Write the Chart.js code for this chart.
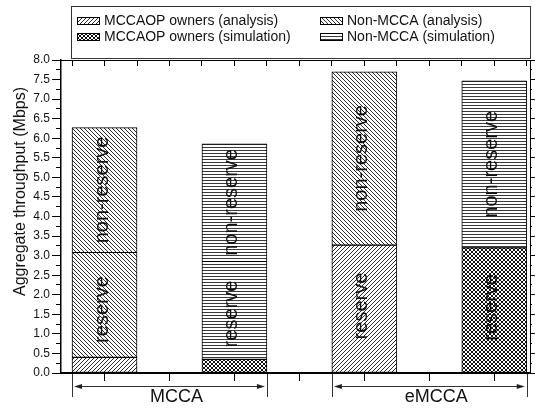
<!DOCTYPE html>
<html><head><meta charset="utf-8">
<script src="https://cdn.jsdelivr.net/npm/chart.js@4.4.0/dist/chart.umd.min.js"></script>
<style>html,body{margin:0;padding:0;background:#fff;}canvas{display:block;}</style>
</head><body>
<canvas id="c" width="535" height="412"></canvas>
<script>
// ---- data ----
const categories = ['MCCA', 'eMCCA'];
const seriesNames = ['MCCAOP owners (analysis)', 'MCCAOP owners (simulation)', 'Non-MCCA (analysis)', 'Non-MCCA (simulation)'];
const ownersAnalysis = [0.40, 3.27];
const ownersSimulation = [0.35, 3.20];
const nonMccaAnalysis = [5.87, 4.43];
const nonMccaSimulation = [5.51, 4.27];
const reserveAnalysis = [3.09, 3.27];
const reserveSimulation = [2.86, 3.20];
const segmentLabels = ['reserve', 'non-reserve'];
const yTitle = 'Aggregate throughput (Mbps)';

const FONT = "'Liberation Sans', Arial, Helvetica, sans-serif";

function makePattern(kind) {
  const s = kind === 'h' ? 3 : 4;
  const c = document.createElement('canvas');
  c.width = s; c.height = s;
  const g = c.getContext('2d');
  g.fillStyle = '#fff'; g.fillRect(0, 0, s, s);
  g.lineWidth = 1;
  if (kind === 'h') {
    g.fillStyle = '#3a3a3a'; g.fillRect(0, 0, s, 1);
  } else {
    g.strokeStyle = kind === 'x' ? '#111' : '#2a2a2a';
    g.beginPath();
    for (let k = -1; k <= 1; k++) {
      if (kind === '/' || kind === 'x') { g.moveTo(k * s, s); g.lineTo(k * s + s, 0); }
      if (kind === '\\' || kind === 'x') { g.moveTo(k * s, 0); g.lineTo(k * s + s, s); }
    }
    g.stroke();
  }
  return document.getElementById('c').getContext('2d').createPattern(c, 'repeat');
}
const patterns = [makePattern('/'), makePattern('x'), makePattern('\\'), makePattern('h')];

const posA = i => 4 * i + 1;   // analysis bar slot
const posS = i => 4 * i + 3;   // simulation bar slot
const toPts = (arr, pos) => arr.map((v, i) => ({x: pos(i), y: v}));

const seriesData = [
  toPts(ownersAnalysis, posA),
  toPts(ownersSimulation, posS),
  toPts(nonMccaAnalysis, posA),
  toPts(nonMccaSimulation, posS)
];

const datasets = seriesNames.map((name, k) => ({
  label: name,
  data: seriesData[k],
  backgroundColor: patterns[k],
  borderColor: '#000',
  borderWidth: 1,
  borderSkipped: false,
  barThickness: 65,
  stack: 's',
  xAxisID: 'x',
  yAxisID: 'y'
}));

const fixSize = (w, h) => s => { if (w !== null) s.width = w; if (h !== null) s.height = h; };

const decor = {
  id: 'decor',
  afterDatasetsDraw(chart) {
    const {ctx, scales: {x, y}} = chart;
    const half = 32.5;
    ctx.save();
    categories.forEach((cat, i) => {
      const bars = [
        {pos: posA(i), owners: ownersAnalysis[i], total: ownersAnalysis[i] + nonMccaAnalysis[i], reserve: reserveAnalysis[i]},
        {pos: posS(i), owners: ownersSimulation[i], total: ownersSimulation[i] + nonMccaSimulation[i], reserve: reserveSimulation[i]}
      ];
      bars.forEach(b => {
        const cx = x.getPixelForValue(b.pos);
        const yR = y.getPixelForValue(b.reserve);
        if (Math.abs(b.reserve - b.owners) > 0.05) {
          ctx.strokeStyle = '#000'; ctx.lineWidth = 1;
          ctx.beginPath(); ctx.moveTo(cx - half, Math.round(yR) + 0.5); ctx.lineTo(cx + half, Math.round(yR) + 0.5); ctx.stroke();
        }
        const y0 = y.getPixelForValue(0), yT = y.getPixelForValue(b.total);
        ctx.fillStyle = '#111';
        ctx.font = '20px ' + FONT;
        ctx.textAlign = 'center'; ctx.textBaseline = 'alphabetic';
        [[segmentLabels[0], (y0 + yR) / 2 - 3], [segmentLabels[1], (yR + yT) / 2]].forEach(([t, yy]) => {
          ctx.save(); ctx.translate(cx + 3, yy); ctx.rotate(-Math.PI / 2); ctx.fillText(t, 0, 0); ctx.restore();
        });
      });
    });
    ctx.restore();
  },
  afterDraw(chart) {
    const {ctx, scales: {x}} = chart;
    ctx.save();
    // group brackets under the x axis
    categories.forEach((cat, i) => {
      const l = x.getPixelForValue(posA(i) - 0.5), r = x.getPixelForValue(posS(i) + 0.5);
      ctx.strokeStyle = '#333'; ctx.fillStyle = '#222'; ctx.lineWidth = 1;
      ctx.beginPath();
      ctx.moveTo(Math.round(l) + 0.5, 374); ctx.lineTo(Math.round(l) + 0.5, 397);
      ctx.moveTo(Math.round(r) + 0.5, 374); ctx.lineTo(Math.round(r) + 0.5, 397);
      ctx.moveTo(l + 4, 386.5); ctx.lineTo(r - 4, 386.5);
      ctx.stroke();
      ctx.beginPath();
      ctx.moveTo(l + 2, 386.5); ctx.lineTo(l + 10, 384); ctx.lineTo(l + 10, 389); ctx.closePath();
      ctx.moveTo(r - 2, 386.5); ctx.lineTo(r - 10, 384); ctx.lineTo(r - 10, 389); ctx.closePath();
      ctx.fill();
    });
    // y axis title
    ctx.fillStyle = '#111';
    ctx.font = '16px ' + FONT;
    ctx.textAlign = 'center'; ctx.textBaseline = 'alphabetic';
    ctx.save(); ctx.translate(25, 191.5); ctx.rotate(-Math.PI / 2); ctx.fillText(yTitle, 0, 0); ctx.restore();
    // legend box
    ctx.strokeStyle = '#333'; ctx.lineWidth = 1;
    ctx.strokeRect(71.5, 6.5, 459, 52);
    const items = [
      {k: 0, sx: 77, tx: 104, y: 21},
      {k: 1, sx: 77, tx: 104, y: 37},
      {k: 2, sx: 320, tx: 347, y: 21},
      {k: 3, sx: 320, tx: 347, y: 37}
    ];
    items.forEach(it => {
      ctx.fillStyle = patterns[it.k];
      ctx.fillRect(it.sx, it.y - 4, 23, 8);
      ctx.strokeStyle = '#000';
      ctx.strokeRect(it.sx + 0.5, it.y - 3.5, 22, 7);
      ctx.fillStyle = '#111';
      ctx.font = '14px ' + FONT;
      ctx.textAlign = 'left'; ctx.textBaseline = 'middle';
      ctx.fillText(seriesNames[it.k], it.tx, it.y);
    });
    ctx.restore();
  }
};

const xMin = 0.33, xMax = 7.55;
const gridNoArea = (len, extra) => Object.assign({display: true, drawOnChartArea: false, drawTicks: true, tickLength: len, tickColor: '#000', tickWidth: 1, offset: false}, extra || {});

new Chart(document.getElementById('c'), {
  type: 'bar',
  data: {datasets},
  options: {
    responsive: false,
    animation: false,
    devicePixelRatio: 1,
    layout: {padding: 0},
    plugins: {legend: {display: false}, tooltip: {enabled: false}},
    scales: {
      x: {
        type: 'linear', position: 'bottom', min: xMin, max: xMax, stacked: true, offset: false,
        grid: gridNoArea(8),
        border: {display: true, color: '#000', width: 2},
        ticks: {
          stepSize: 1, includeBounds: false, autoSkip: false, maxRotation: 0, minRotation: 0,
          padding: 5, labelOffset: 7, color: '#111', font: {size: 18, family: FONT},
          callback: v => { const i = categories.findIndex((c, k) => Math.abs(v - (posA(k) + posS(k)) / 2) < 1e-6); return i >= 0 ? categories[i] : ''; }
        },
        afterFit: fixSize(null, 39)
      },
      xTop: {
        type: 'linear', position: 'top', min: xMin, max: xMax, offset: false,
        grid: gridNoArea(-6),
        border: {display: true, color: '#000', width: 1},
        ticks: {display: false, stepSize: 0.5, includeBounds: false},
        afterFit: fixSize(null, 60)
      },
      y: {
        type: 'linear', position: 'left', min: 0, max: 8, stacked: true, weight: 1,
        grid: gridNoArea(9),
        border: {display: true, color: '#000', width: 1.5},
        ticks: {stepSize: 0.5, padding: 2, color: '#111', font: {size: 12, family: FONT}, callback: v => Number(v).toFixed(1)},
        afterFit: fixSize(61, null)
      },
      yMinor: {
        type: 'linear', position: 'left', min: 0, max: 8, weight: 0,
        grid: gridNoArea(5),
        border: {display: false},
        ticks: {display: false, stepSize: 0.25},
        afterFit: fixSize(0, null)
      },
      yRight: {
        type: 'linear', position: 'right', min: 0, max: 8, weight: 1,
        grid: gridNoArea(5),
        border: {display: true, color: '#000', width: 1},
        ticks: {display: false, stepSize: 0.5},
        afterFit: fixSize(5, null)
      },
      yRightMinor: {
        type: 'linear', position: 'right', min: 0, max: 8, weight: 0,
        grid: gridNoArea(2),
        border: {display: false},
        ticks: {display: false, stepSize: 0.25},
        afterFit: fixSize(0, null)
      }
    }
  },
  plugins: [decor]
});
</script>
</body></html>
